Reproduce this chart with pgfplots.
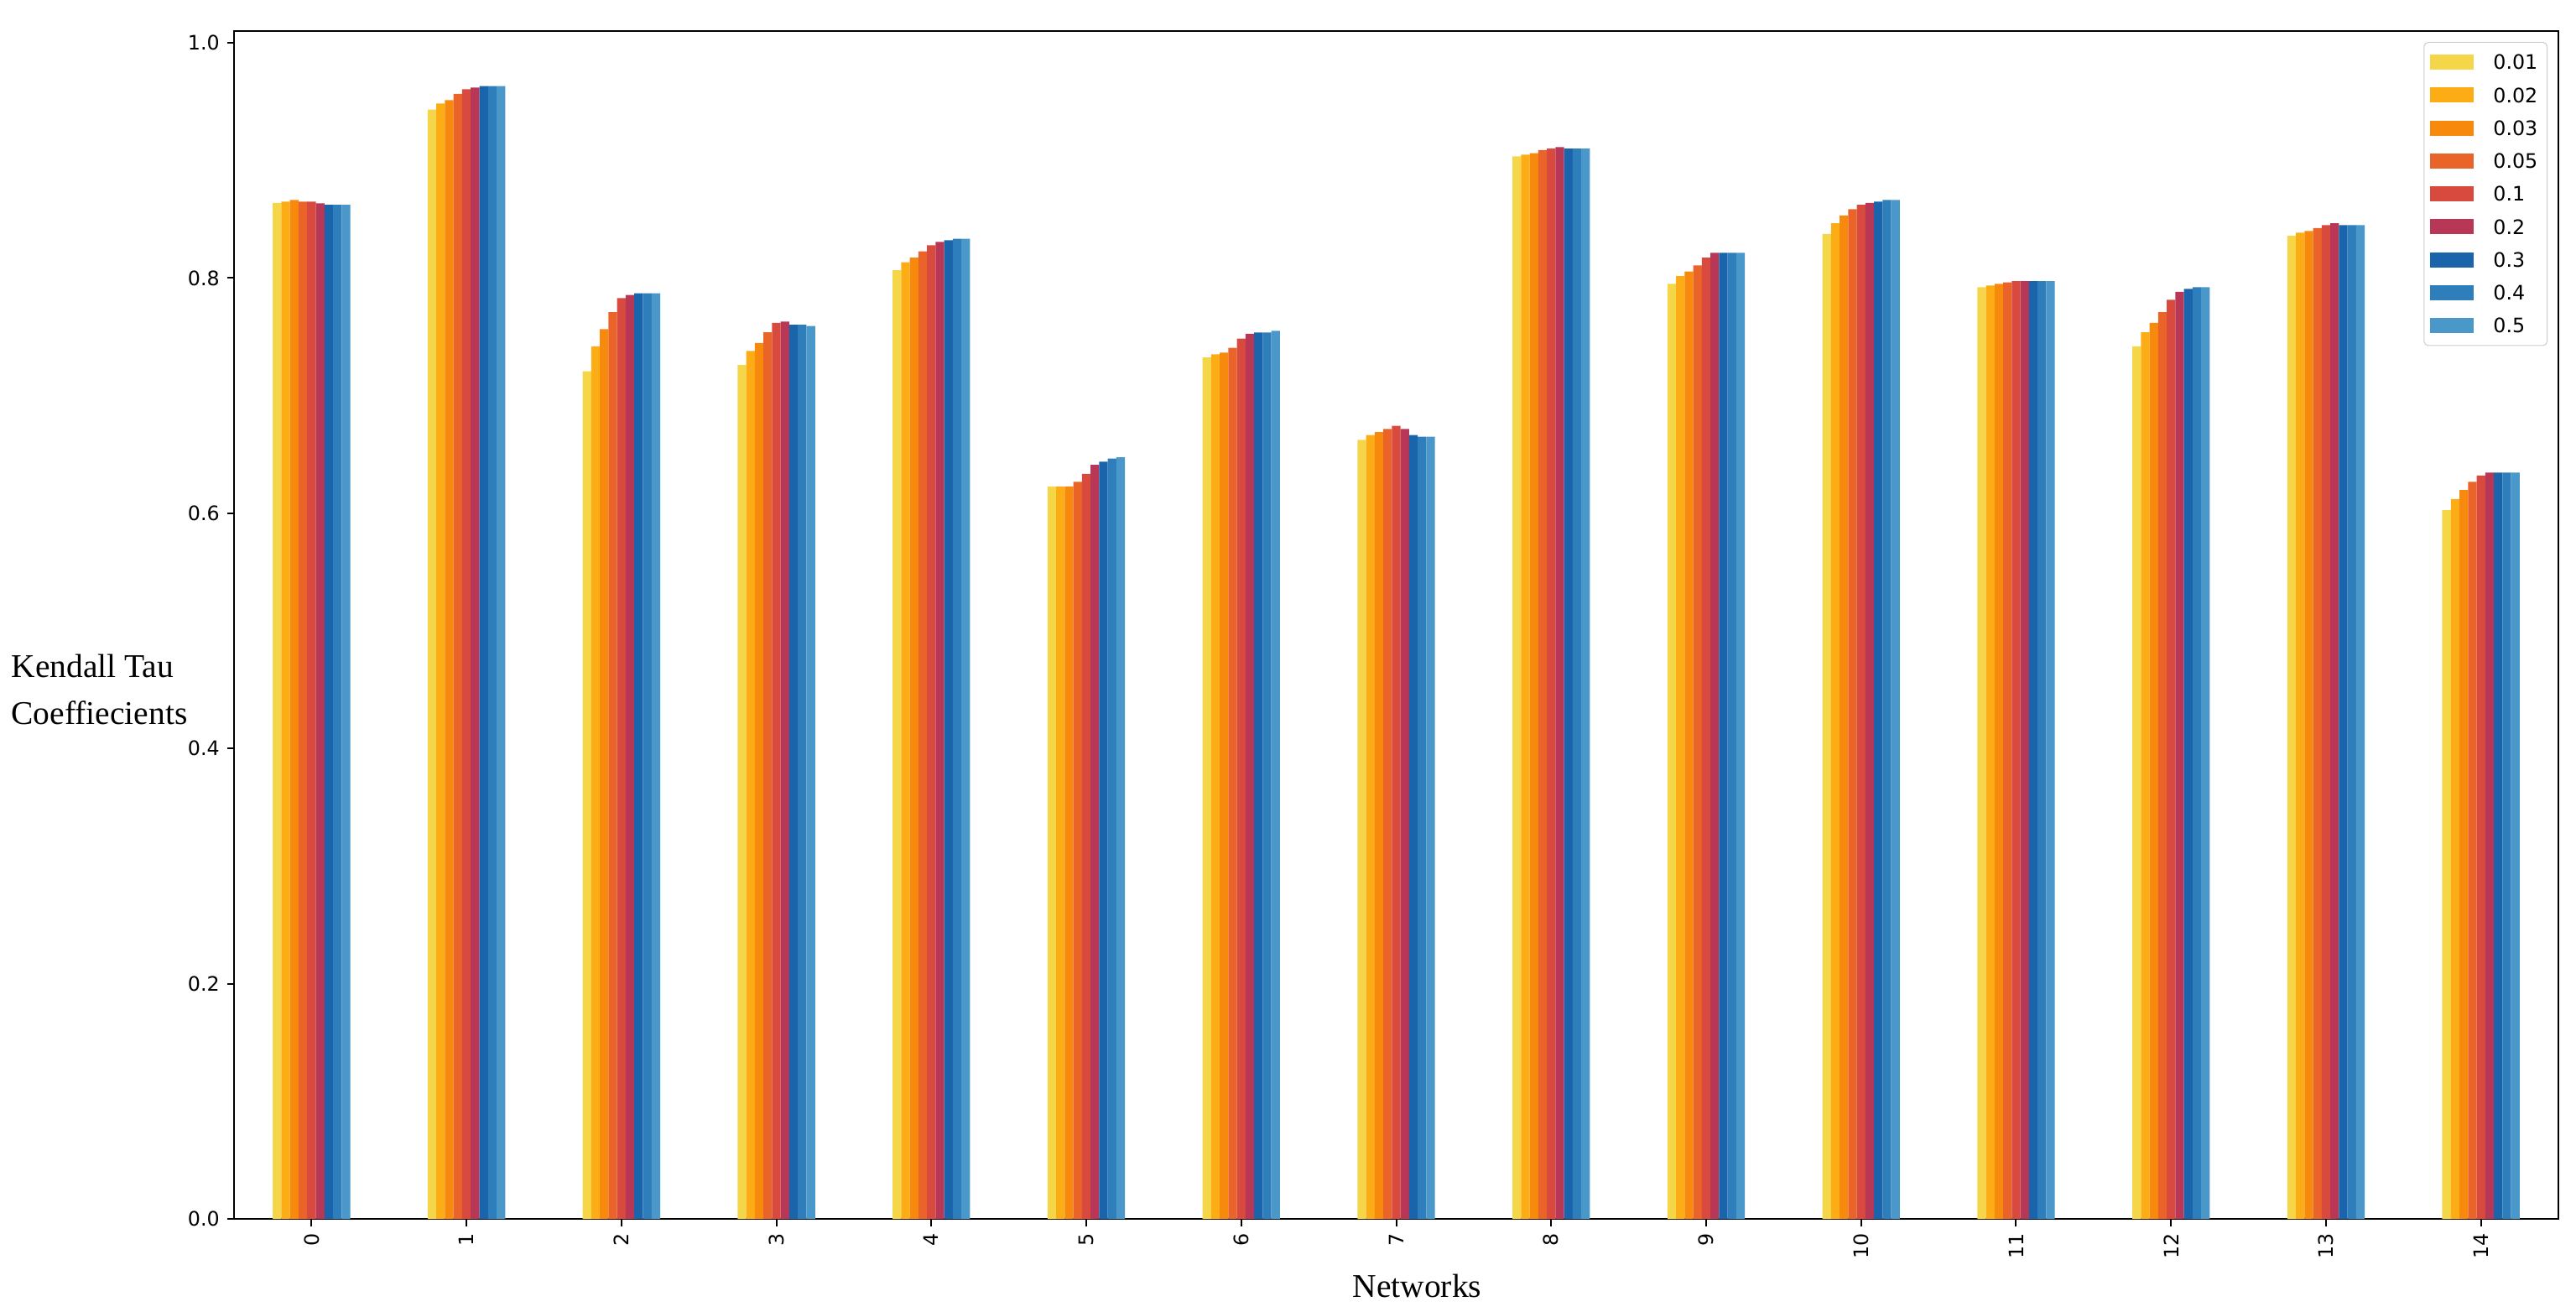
\documentclass[border=0pt]{standalone}
\usepackage{fontspec}
\setmainfont{Liberation Serif}
\newfontfamily\dejavu{DejaVu Sans}
\usepackage{pgfplots}
\usepackage{pgfplotstable}
\pgfplotsset{compat=1.18}

\definecolor{c1}{HTML}{F5D648}
\definecolor{c2}{HTML}{FCAC15}
\definecolor{c3}{HTML}{F7890D}
\definecolor{c4}{HTML}{EA642A}
\definecolor{c5}{HTML}{D84A3E}
\definecolor{c6}{HTML}{B83756}
\definecolor{c7}{HTML}{1964AA}
\definecolor{c8}{HTML}{2E7EBC}
\definecolor{c9}{HTML}{4A97C9}

% Kendall tau per network, one column per fraction
\pgfplotstableread{
net a b c d e f g h i
0  0.8638 0.8650 0.8664 0.8650 0.8650 0.8635 0.8623 0.8623 0.8623
1  0.9432 0.9484 0.9513 0.9565 0.9605 0.9619 0.9632 0.9632 0.9632
2  0.7206 0.7418 0.7565 0.7710 0.7829 0.7855 0.7870 0.7870 0.7870
3  0.7261 0.7380 0.7447 0.7539 0.7618 0.7630 0.7603 0.7603 0.7591
4  0.8067 0.8134 0.8174 0.8226 0.8279 0.8307 0.8321 0.8333 0.8333
5  0.6227 0.6227 0.6227 0.6267 0.6334 0.6412 0.6438 0.6464 0.6476
6  0.7325 0.7351 0.7366 0.7406 0.7485 0.7525 0.7537 0.7537 0.7551
7  0.6624 0.6664 0.6690 0.6717 0.6743 0.6717 0.6664 0.6650 0.6650
8  0.9035 0.9049 0.9061 0.9087 0.9101 0.9113 0.9101 0.9101 0.9101
9  0.7951 0.8017 0.8055 0.8107 0.8174 0.8214 0.8214 0.8214 0.8214
10 0.8374 0.8466 0.8531 0.8585 0.8623 0.8638 0.8650 0.8664 0.8664
11 0.7922 0.7936 0.7951 0.7962 0.7974 0.7974 0.7974 0.7974 0.7974
12 0.7418 0.7539 0.7618 0.7710 0.7815 0.7882 0.7908 0.7922 0.7922
13 0.8359 0.8386 0.8400 0.8424 0.8450 0.8466 0.8450 0.8450 0.8450
14 0.6027 0.6120 0.6198 0.6267 0.6320 0.6346 0.6346 0.6346 0.6346
}\kendall

\begin{document}
\begin{tikzpicture}
\begin{axis}[
  scale only axis,
  width=1108.4pt, height=566.4pt,
  xmin=-0.5, xmax=14.5,
  ymin=0, ymax=1.01,
  ybar=0pt, bar width=4.105pt,
  axis line style={line width=0.8pt},
  tick pos=left,
  tick align=outside,
  major tick length=3.4pt,
  every tick/.style={black, line width=0.8pt},
  xtick={0,...,14},
  ytick={0,0.2,0.4,0.6,0.8,1.0},
  yticklabel style={/pgf/number format/.cd, fixed, fixed zerofill, precision=1},
  /pgf/number format/assume math mode=true,
  tick label style={font=\dejavu\fontsize{9.5}{11}\selectfont},
  xticklabel style={rotate=90, anchor=east},
  xlabel={Networks},
  ylabel={Kendall Tau\\Coeffiecients},
  every axis x label/.style={at={(axis description cs:0.509,-0.0565)}, anchor=center,
    font=\fontsize{15.8}{22.4}\selectfont},
  every axis y label/.style={at={(axis description cs:-0.099,0.4456)}, anchor=west, align=left,
    font=\fontsize{15.8}{22.4}\selectfont},
  legend style={at={(1,1)}, anchor=north east, xshift=-5.2pt, yshift=-5.2pt,
    draw=black!20, rounded corners=2pt, fill=white,
    font=\dejavu\fontsize{9.5}{11}\selectfont,
    row sep=5.7pt, inner xsep=3pt, inner ysep=4.5pt,
    nodes={inner sep=1.5pt, text height=7pt, text depth=0pt}},
  legend cell align=left,
  legend image code/.code={\fill[#1,draw=none,sharp corners] (0pt,-3.6pt) rectangle (20.8pt,3.6pt);},
  /tikz/every odd column/.append style={column sep=7.7pt},
]
\addplot[fill=c1, draw=none] table[x=net, y=a] {\kendall};
\addplot[fill=c2, draw=none] table[x=net, y=b] {\kendall};
\addplot[fill=c3, draw=none] table[x=net, y=c] {\kendall};
\addplot[fill=c4, draw=none] table[x=net, y=d] {\kendall};
\addplot[fill=c5, draw=none] table[x=net, y=e] {\kendall};
\addplot[fill=c6, draw=none] table[x=net, y=f] {\kendall};
\addplot[fill=c7, draw=none] table[x=net, y=g] {\kendall};
\addplot[fill=c8, draw=none] table[x=net, y=h] {\kendall};
\addplot[fill=c9, draw=none] table[x=net, y=i] {\kendall};
\legend{0.01,0.02,0.03,0.05,0.1,0.2,0.3,0.4,0.5}
\coordinate (lo) at (rel axis cs:0,0);
\coordinate (hi) at (rel axis cs:1,1);
\end{axis}
\pgfresetboundingbox
\path ([shift={(-111.6pt,-44pt)}]lo) rectangle ([shift={(8.4pt,14.8pt)}]hi);
\end{tikzpicture}
\end{document}
